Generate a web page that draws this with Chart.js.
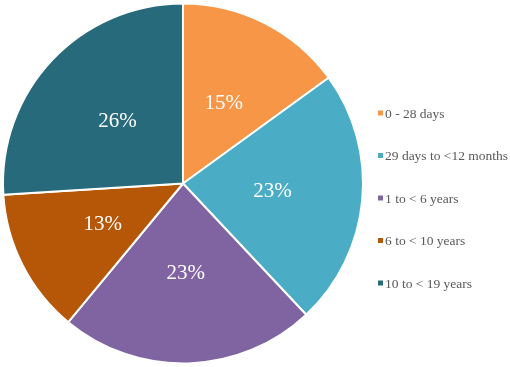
<!DOCTYPE html>
<html>
<head>
<meta charset="utf-8">
<script src="https://cdn.jsdelivr.net/npm/chart.js@4"></script>
<style>
  html, body { margin: 0; padding: 0; background: #fff; }
  #wrap { width: 510px; height: 367px; }
</style>
</head>
<body>
<div id="wrap"><canvas id="pie"></canvas></div>
<script>
var labels = [
  "0 - 28 days",
  "29 days to <12 months",
  "1 to < 6 years",
  "6 to < 10 years",
  "10 to < 19 years"
];
var shares = [15, 23, 23, 13, 26];
var colors = ["#F79646", "#4BACC6", "#8064A2", "#B65708", "#276A7C"];

var serif = "'Liberation Serif', 'Times New Roman', serif";

// percent text inside each slice
var sliceLabels = {
  id: "sliceLabels",
  afterDatasetsDraw: function (chart) {
    var c = chart.ctx;
    var meta = chart.getDatasetMeta(0);
    c.save();
    c.fillStyle = "#fff";
    c.font = "21px " + serif;
    c.textAlign = "center";
    c.textBaseline = "middle";
    meta.data.forEach(function (arc, i) {
      var mid = (arc.startAngle + arc.endAngle) / 2;
      var r = arc.outerRadius * 0.5;
      c.fillText(shares[i] + "%", arc.x + Math.cos(mid) * r, arc.y + Math.sin(mid) * r);
    });
    c.restore();
  }
};

// legend on the right, spaced like the original
var sideLegend = {
  id: "sideLegend",
  afterDraw: function (chart) {
    var c = chart.ctx;
    var area = chart.chartArea;
    var x = area.right + 14;
    var gap = 42.5;
    var y0 = 113;
    c.save();
    c.font = "13.5px " + serif;
    c.textBaseline = "middle";
    c.textAlign = "left";
    labels.forEach(function (txt, i) {
      var y = y0 + i * gap;
      c.fillStyle = colors[i];
      c.fillRect(x, y - 2.5, 5, 5);
      c.fillStyle = "#595959";
      c.fillText(txt, x + 7, y + 1);
    });
    c.restore();
  }
};

var ctx = document.getElementById("pie");

new Chart(ctx, {
  type: "pie",
  data: {
    labels: labels,
    datasets: [
      {
        data: shares,
        backgroundColor: colors,
        borderColor: "#fff",
        borderWidth: 2,
        hoverOffset: 0
      }
    ]
  },
  options: {
    responsive: true,
    maintainAspectRatio: false,
    animation: false,
    layout: { padding: { top: 2, bottom: 2, left: 2, right: 146 } },
    plugins: {
      tooltip: { enabled: false },
      legend: { display: false }
    }
  },
  plugins: [sliceLabels, sideLegend]
});
</script>
</body>
</html>
